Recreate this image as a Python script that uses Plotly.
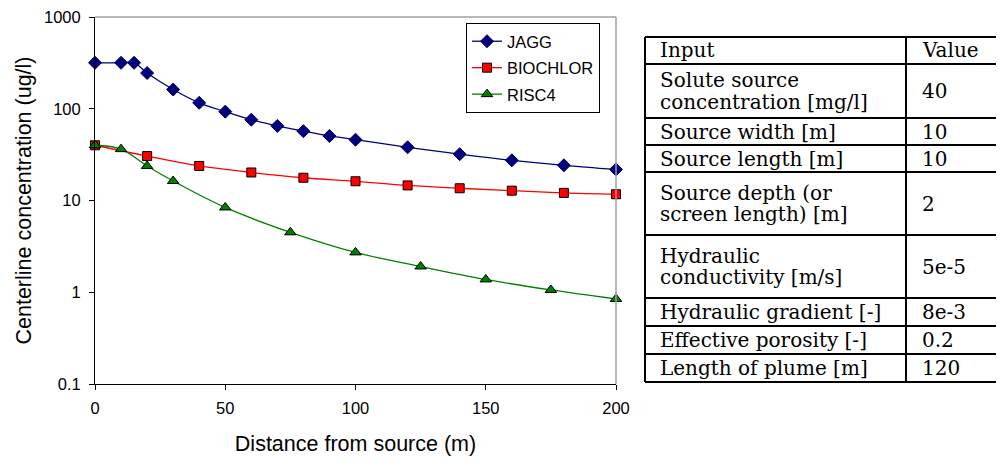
import plotly.graph_objects as go

# ---- chart data ----
distance_jagg = [0, 10, 15, 20, 30, 40, 50, 60, 70, 80, 90, 100, 120, 140, 160, 180, 200]
conc_jagg = [317, 317, 317, 245, 162, 116, 93, 76, 65, 57, 50.5, 46, 38, 32, 27.4, 24.2, 21.8]

distance_biochlor = [0, 20, 40, 60, 80, 100, 120, 140, 160, 180, 200]
conc_biochlor = [40, 30.5, 23.8, 20.2, 17.7, 16.2, 14.6, 13.6, 12.8, 12.1, 11.7]

distance_risc4 = [0, 10, 20, 30, 50, 75, 100, 125, 150, 175, 200]
conc_risc4 = [40, 36.3, 23.8, 16.3, 8.4, 4.5, 2.72, 1.91, 1.38, 1.06, 0.845]

x_ticks = [0, 50, 100, 150, 200]
y_ticks = [0.1, 1, 10, 100, 1000]
y_ticktext = ["0.1", "1", "10", "100", "1000"]

# ---- table data ----
table_header = ["Input", "Value"]
table_inputs = [
    ["Solute source", "concentration [mg/l]"],
    ["Source width [m]"],
    ["Source length [m]"],
    ["Source depth (or", "screen length) [m]"],
    ["Hydraulic", "conductivity [m/s]"],
    ["Hydraulic gradient [-]"],
    ["Effective porosity [-]"],
    ["Length of plume [m]"],
]
table_values = ["40", "10", "10", "2", "5e-5", "8e-3", "0.2", "120"]

# ---- layout geometry (target page pixels; page body adds an 8px margin) ----
OFF = 8
W, H = 1004 - OFF, 463 - OFF
PL, PR, PT, PB = 95, 616, 17, 384


def px(x):
    return (x - PL) / (PR - PL)


def py(y):
    return (PB - y) / (PB - PT)


SANS = "Liberation Sans, Arial, sans-serif"
SERIF = "DejaVu Serif, serif"

fig = go.Figure()

fig.add_trace(go.Scatter(
    x=distance_jagg, y=conc_jagg, name="JAGG", legendgroup="a",
    mode="lines+markers", line=dict(color="#000080", width=1.3, shape="spline"),
    marker=dict(symbol="diamond", size=10, color="#000080", line=dict(color="#000050", width=1)),
    cliponaxis=False,
))
fig.add_trace(go.Scatter(
    x=distance_biochlor, y=conc_biochlor, name="BIOCHLOR", legendgroup="b",
    mode="lines+markers", line=dict(color="#FF0000", width=1.3, shape="spline"),
    marker=dict(symbol="square", size=9, color="#FF0000", line=dict(color="#000000", width=1)),
    cliponaxis=False,
))
fig.add_trace(go.Scatter(
    x=distance_risc4, y=conc_risc4, name="RISC4", legendgroup="c",
    mode="lines+markers", line=dict(color="#008000", width=1.3, shape="spline"),
    marker=dict(symbol="triangle-up", size=10, color="#008000", line=dict(color="#000000", width=1)),
    cliponaxis=False,
))

shapes = []
# grey top and right frame
shapes.append(dict(type="line", xref="paper", yref="paper", x0=0, x1=1, y0=1, y1=1,
                   line=dict(color="#A0A0A0", width=1.5)))
shapes.append(dict(type="line", xref="paper", yref="paper", x0=1, x1=1, y0=0, y1=1,
                   line=dict(color="#A0A0A0", width=1.5)))

# table geometry
TL, TR, TC = 645, 998, 906
row_lines = [37, 64, 118, 145, 172, 235, 298, 326, 354, 382]
tline = dict(color="#000000", width=2)
for yy in row_lines:
    shapes.append(dict(type="line", xref="paper", yref="paper", x0=px(TL), x1=px(TR),
                       y0=py(yy), y1=py(yy), line=tline, layer="above"))
for xx in (TL, TC, TR):
    shapes.append(dict(type="line", xref="paper", yref="paper", x0=px(xx), x1=px(xx),
                       y0=py(row_lines[0]), y1=py(row_lines[-1]), line=tline, layer="above"))

annotations = []
tfont = dict(family=SERIF, size=20, color="#000000")
TXT_L, TXT_V = 658, 920
LINE_GAP = 21


def add_cell(lines, x, top, bottom):
    mid = (top + bottom) / 2
    n = len(lines)
    for i, t in enumerate(lines):
        yc = mid + (i - (n - 1) / 2) * LINE_GAP
        annotations.append(dict(text=t, x=px(x), y=py(yc), xref="paper", yref="paper",
                                xanchor="left", yanchor="middle", showarrow=False, font=tfont))


add_cell([table_header[0]], TXT_L, row_lines[0], row_lines[1])
add_cell([table_header[1]], TXT_V, row_lines[0], row_lines[1])
for i, (inp, val) in enumerate(zip(table_inputs, table_values)):
    add_cell(inp, TXT_L, row_lines[i + 1], row_lines[i + 2])
    add_cell([val], TXT_V, row_lines[i + 1], row_lines[i + 2])

# y-axis title, centred on the plot area like the original
annotations.append(dict(text="Centerline concentration (ug/l)", x=px(23), y=0.5,
                        xref="paper", yref="paper", xanchor="center", yanchor="middle",
                        textangle=-90, showarrow=False,
                        font=dict(family=SANS, size=21.5, color="#000000")))

fig.update_layout(
    width=W, height=H,
    margin=dict(l=PL - OFF, r=W - (PR - OFF), t=PT - OFF, b=H - (PB - OFF), autoexpand=False),
    paper_bgcolor="white", plot_bgcolor="white",
    font=dict(family=SANS, color="#000000", size=16),
    showlegend=True,
    legend=dict(
        x=px(466), y=py(23), xanchor="left", yanchor="top",
        bgcolor="white", bordercolor="#000000", borderwidth=1,
        font=dict(family=SANS, size=16.5, color="#000000"),
        traceorder="grouped", tracegroupgap=2,
    ),
    xaxis=dict(
        range=[0, 200], tickvals=x_ticks, showgrid=False, zeroline=False,
        showline=True, linecolor="#000000", linewidth=1,
        ticks="outside", ticklen=5, tickcolor="#000000",
        tickfont=dict(family=SANS, size=16.5), ticklabelstandoff=4,
        ticklabeloverflow="allow",
        title=dict(text="Distance from source (m)", font=dict(family=SANS, size=21.5), standoff=20),
    ),
    yaxis=dict(
        type="log", range=[-1, 3], tickvals=y_ticks, ticktext=y_ticktext,
        showgrid=False, zeroline=False,
        showline=True, linecolor="#000000", linewidth=1,
        ticks="outside", ticklen=5, tickcolor="#000000",
        tickfont=dict(family=SANS, size=16.5), ticklabelstandoff=5,
        ticklabeloverflow="allow",
    ),
    shapes=shapes,
    annotations=annotations,
)

fig.write_html("out.html")
